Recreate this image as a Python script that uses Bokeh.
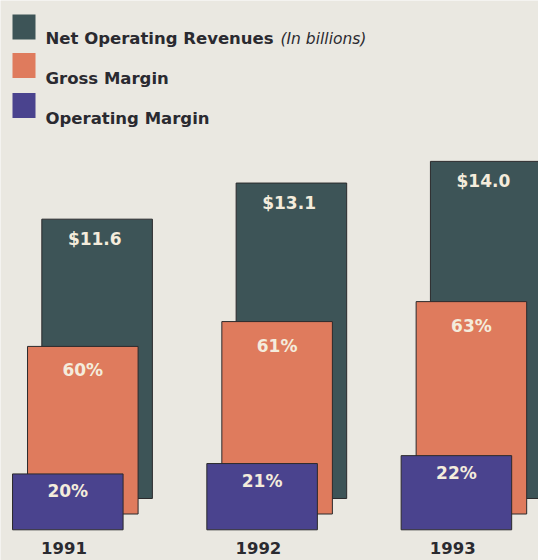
from bokeh.plotting import figure
from bokeh.models import Range1d, ColumnDataSource
from bokeh.transform import dodge
from bokeh.core.properties import value
from bokeh.embed import file_html
from bokeh.resources import INLINE

# ---- data ----
years = [1991, 1992, 1993]
year_labels = ["1991", "1992", "1993"]
revenues = [11.6, 13.1, 14.0]          # Net operating revenues, $ billions
gross_margin_pct = [60, 61, 63]        # Gross margin, %
operating_margin_pct = [20, 21, 22]    # Operating margin, %
legend_labels = ["Net Operating Revenues", "Gross Margin", "Operating Margin"]
legend_note = "(In billions)"

# ---- styles ----
BG = "#eae8e1"
DARK = "#3d5457"
ORANGE = "#df7b5d"
PURPLE = "#4a438e"
EDGE = "#2b2a2c"
LABEL_ON_BAR = "#f4ecdc"
TEXT = "#2a2a30"
FONT = "DejaVu Sans"

W, H = 538, 560
X0, X1 = 1990.5028, 1993.2717
Y0, Y1 = -2.5748, 20.681

GM_BASE = -0.644   # visual baseline offsets (stacked-card look)
OM_BASE = -1.30
BAR_W = 0.569
GM_SHIFT = -0.0736
OM_SHIFT = -0.1508


def px_x(px):
    return X0 + (X1 - X0) * px / W


def px_y(py):
    return Y1 - (Y1 - Y0) * py / H


gross_top = [GM_BASE + r * g / 100 for r, g in zip(revenues, gross_margin_pct)]
op_top = [OM_BASE + r * o / 100 for r, o in zip(revenues, operating_margin_pct)]

src = ColumnDataSource(dict(
    year=years,
    year_label=year_labels,
    rev=revenues,
    rev_label=[f"${v:.1f}" for v in revenues],
    gm_top=gross_top,
    gm_label=[f"{v}%" for v in gross_margin_pct],
    om_top=op_top,
    om_label=[f"{v}%" for v in operating_margin_pct],
))

p = figure(width=W, height=H, output_backend="svg", toolbar_location=None,
           x_range=Range1d(X0, X1), y_range=Range1d(Y0, Y1),
           x_axis_type=None, y_axis_type=None, min_border=0)
p.grid.visible = False
p.outline_line_color = None
p.background_fill_color = BG
p.border_fill_color = BG

p.vbar(x="year", width=BAR_W, bottom=0, top="rev", source=src,
       fill_color=DARK, line_color=EDGE, line_width=1)
p.vbar(x=dodge("year", GM_SHIFT, range=p.x_range), width=BAR_W, bottom=GM_BASE,
       top="gm_top", source=src, fill_color=ORANGE, line_color=EDGE, line_width=1)
p.vbar(x=dodge("year", OM_SHIFT, range=p.x_range), width=BAR_W, bottom=OM_BASE,
       top="om_top", source=src, fill_color=PURPLE, line_color=EDGE, line_width=1)

common = dict(source=src, text_font=value(FONT), text_font_style="bold",
              text_align="center", text_baseline="middle", text_color=LABEL_ON_BAR,
              text_font_size="17px")
p.text(x=dodge("year", -0.012, range=p.x_range), y="rev", text="rev_label",
       y_offset=20, **common)
p.text(x=dodge("year", GM_SHIFT, range=p.x_range), y="gm_top", text="gm_label",
       y_offset=24, **common)
p.text(x=dodge("year", OM_SHIFT, range=p.x_range), y="om_top", text="om_label",
       y_offset=17, **common)

# year labels under the bars
p.text(x=dodge("year", -0.17, range=p.x_range), y=OM_BASE, text="year_label", source=src,
       y_offset=18, text_font=value(FONT), text_font_style="bold", text_font_size="16.5px",
       text_align="center", text_baseline="middle", text_color=TEXT)

# ---- legend (drawn manually to match the original layout) ----
swatch_y = [px_y(v) for v in (26.5, 65, 105)]
text_y = [px_y(v) for v in (38, 77.5, 117.5)]
p.rect(x=[px_x(23.5)] * 3, y=swatch_y, width=23, height=25,
       width_units="screen", height_units="screen",
       fill_color=[DARK, ORANGE, PURPLE], line_color=None)
p.text(x=[px_x(45)] * 3, y=text_y, text=legend_labels,
       text_font=value(FONT), text_font_style="bold", text_font_size="16.5px",
       text_baseline="alphabetic", text_align="left", text_color=TEXT)
p.text(x=[px_x(280)], y=[text_y[0]], text=[legend_note],
       text_font=value(FONT), text_font_style="italic", text_font_size="15.5px",
       text_baseline="alphabetic", text_align="left", text_color=TEXT)

open("out.html", "w").write(file_html(p, INLINE))
